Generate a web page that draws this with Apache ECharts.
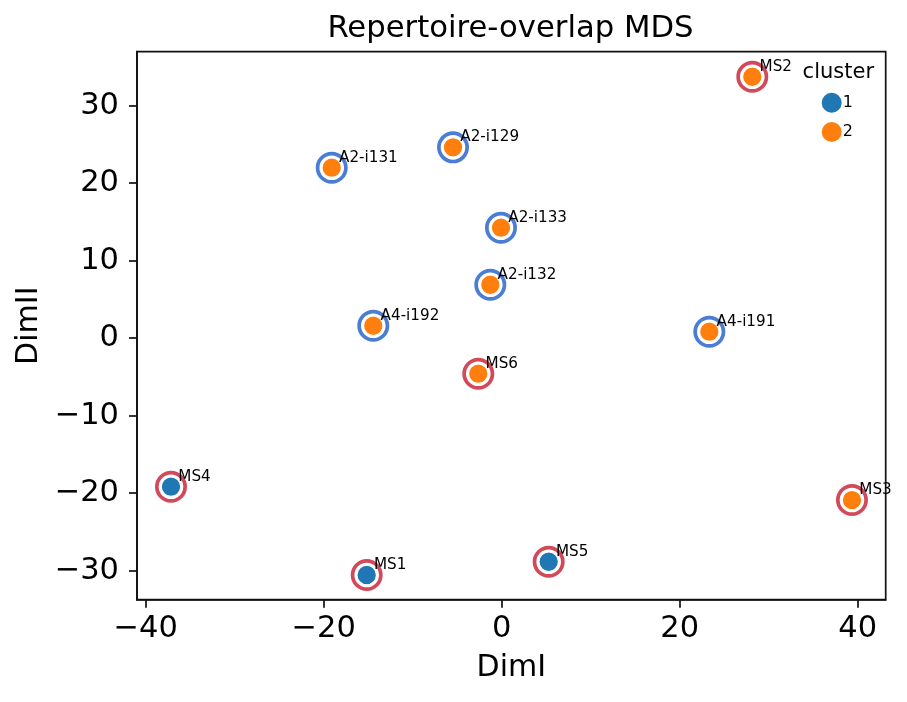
<!DOCTYPE html>
<html>
<head>
<meta charset="utf-8">
<script src="https://cdn.jsdelivr.net/npm/echarts@6/dist/echarts.min.js"></script>
<style>
html,body{margin:0;padding:0;background:#fff;}
#chart{width:907px;height:702px;}
</style>
</head>
<body>
<div id="chart"></div>
<script>
const sampleNames = ['MS2','A2-i131','A2-i129','A2-i133','A2-i132','A4-i192','A4-i191','MS6','MS4','MS3','MS1','MS5'];
const dimI  = [28.16, -19.10, -5.47, -0.08, -1.28, -14.43, 23.33, -2.63, -37.16, 39.36, -15.17, 5.28];
const dimII = [33.74, 22.00, 24.63, 14.26, 6.90, 1.61, 0.84, -4.58, -19.16, -20.88, -30.55, -28.84];
const cluster = [2, 2, 2, 2, 2, 2, 2, 2, 1, 2, 1, 1];
const ringGroup = ['MS','A','A','A','A','A','A','MS','MS','MS','MS','MS'];
const clusterNames = ['1', '2'];
const xTicks = [-40, -20, 0, 20, 40];
const yTicks = [-30, -20, -10, 0, 10, 20, 30];

const FONT = 'DejaVu Sans';
const fmt = v => (v < 0 ? '\u2212' + Math.abs(v) : String(v));
function pts(pred) {
  const out = [];
  for (let i = 0; i < sampleNames.length; i++) {
    if (pred(i)) out.push([dimI[i], dimII[i], sampleNames[i]]);
  }
  return out;
}
const ringColors = { A: '#4a7dd3', MS: '#d2495b' };
const clusterColors = { '1': '#1f77b4', '2': '#ff7f0e' };

const series = [];
['A', 'MS'].forEach(g => {
  series.push({
    type: 'scatter', name: 'ring-' + g, silent: true, z: 2,
    data: pts(i => ringGroup[i] === g),
    symbol: 'circle', symbolSize: 28.3,
    itemStyle: { color: 'rgba(0,0,0,0)', borderColor: ringColors[g], borderWidth: 3.7, opacity: 1 }
  });
});
clusterNames.forEach(c => {
  series.push({
    type: 'scatter', name: c, silent: true, z: 3,
    data: pts(i => String(cluster[i]) === c),
    symbol: 'circle', symbolSize: 19.5,
    itemStyle: { color: clusterColors[c], borderColor: '#ffffff', borderWidth: 1.2, opacity: 1 },
    label: {
      show: true, position: 'inside', align: 'left', verticalAlign: 'middle',
      offset: [7.3, -9.8], formatter: p => p.value[2],
      fontFamily: FONT, fontSize: 15.2, color: '#000'
    }
  });
});

const chart = echarts.init(document.getElementById('chart'), null, { renderer: 'canvas' });
chart.setOption({
  backgroundColor: '#fff',
  animation: false,
  title: [
    { text: 'Repertoire-overlap MDS', left: 510.5, top: 14, padding: 0, textAlign: 'center',
      textStyle: { fontFamily: FONT, fontSize: 30.7, fontWeight: 'normal', color: '#000' } },
    { text: 'cluster', left: 838.3, top: 62, padding: 0, textAlign: 'center',
      textStyle: { fontFamily: FONT, fontSize: 21, fontWeight: 'normal', color: '#000' } }
  ],
  legend: {
    data: clusterNames, orient: 'vertical', left: 819.7, top: 90.7, padding: 0,
    itemWidth: 22, itemHeight: 22, itemGap: 5.3, icon: 'circle', selectedMode: false,
    textStyle: { fontFamily: FONT, fontSize: 16, color: '#000', padding: [0, 0, 0, -5] }
  },
  grid: { left: 137, right: 21.3, top: 51.7, bottom: 102.3, show: true, borderColor: '#111', borderWidth: 1.7, containLabel: false, outerBoundsMode: 'none' },
  xAxis: {
    type: 'value', min: -40.98, max: 43.15,
    name: 'DimI', nameLocation: 'middle', nameGap: 54,
    nameTextStyle: { fontFamily: FONT, fontSize: 30, color: '#000' },
    axisLine: { show: true, onZero: false, lineStyle: { color: '#111', width: 1.7 } },
    axisTick: { show: true, length: 8, customValues: xTicks, lineStyle: { color: '#111', width: 1.7 } },
    axisLabel: { show: true, customValues: xTicks, margin: 14, formatter: fmt, fontFamily: FONT, fontSize: 30.5, color: '#000' },
    splitLine: { show: false }
  },
  yAxis: {
    type: 'value', min: -33.74, max: 36.97,
    name: 'DimII', nameLocation: 'middle', nameGap: 90, nameRotate: 90,
    nameTextStyle: { fontFamily: FONT, fontSize: 30, color: '#000' },
    axisLine: { show: true, onZero: false, lineStyle: { color: '#111', width: 1.7 } },
    axisTick: { show: true, length: 8, customValues: yTicks, lineStyle: { color: '#111', width: 1.7 } },
    axisLabel: { show: true, customValues: yTicks, margin: 18, formatter: fmt, fontFamily: FONT, fontSize: 30.5, color: '#000' },
    splitLine: { show: false }
  },
  series: series
});
</script>
</body>
</html>
